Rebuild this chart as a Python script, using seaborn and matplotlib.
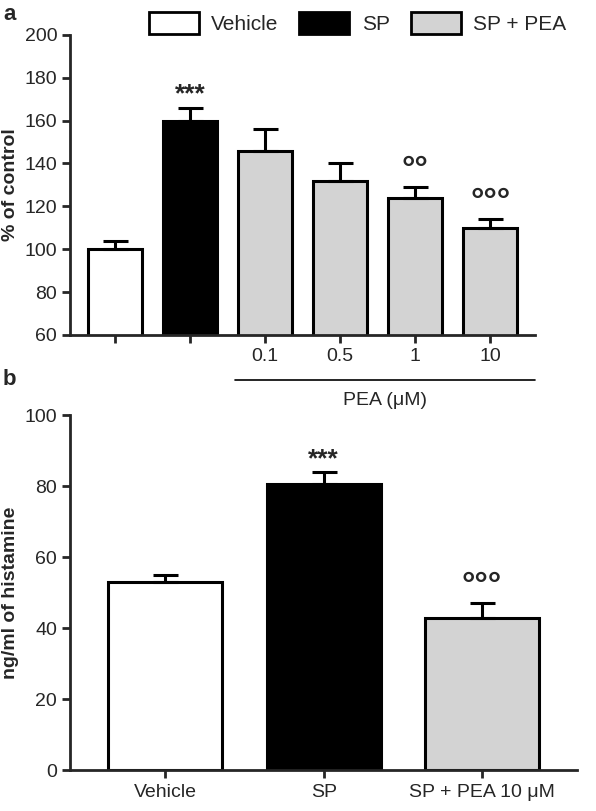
import matplotlib
matplotlib.use("Agg")
import matplotlib.pyplot as plt
import seaborn as sns
import pandas as pd
from matplotlib.patches import Patch

sns.set_style("ticks")
plt.rcParams["font.family"] = ["Liberation Sans", "DejaVu Sans"]

# panel a
a_groups = ["Vehicle", "SP", "0.1", "0.5", "1", "10"]
a_means = [100, 160, 146, 132, 124, 110]
a_sem = [4, 6, 10, 8, 5, 4]
a_marks = ["", "***", "", "", "°°", "°°°"]
# panel b
b_groups = ["Vehicle", "SP", "SP + PEA 10 μM"]
b_means = [53, 80.5, 43]
b_sem = [2, 3.5, 4]
b_marks = ["", "***", "°°°"]

a_colors = ["white", "black", "#d3d3d3", "#d3d3d3", "#d3d3d3", "#d3d3d3"]
b_colors = ["white", "black", "#d3d3d3"]

fig = plt.figure(figsize=(5.96, 8.11), dpi=100)
ax1 = fig.add_axes([0.118, 0.587, 0.78, 0.37])
ax2 = fig.add_axes([0.118, 0.05, 0.85, 0.438])

def draw(ax, groups, means, sem, colors, marks, base):
    df = pd.DataFrame({"g": groups, "v": means})
    sns.barplot(data=df, x="g", y="v", hue="g", palette=colors, legend=False,
                edgecolor="black", linewidth=2.2, width=0.72, ax=ax)
    for i, (m, s) in enumerate(zip(means, sem)):
        ax.errorbar(i, m, yerr=[[0], [s]], color="black", capsize=9,
                    capthick=2.2, elinewidth=2.2)
        if marks[i]:
            star = "*" in marks[i]
            ax.text(i, m + s + base, marks[i], ha="center", va="bottom",
                    fontsize=19 if star else 24, fontweight="bold",
                    linespacing=0.5 if star else 1)
    ax.set_xlabel("")
    sns.despine(ax=ax)
    for sp in ["left", "bottom"]:
        ax.spines[sp].set_linewidth(2)
    ax.tick_params(width=2, length=6, labelsize=14)

draw(ax1, a_groups, a_means, a_sem, a_colors, a_marks, 0.5)
ax1.set_ylim(60, 200)
ax1.set_yticks(range(60, 201, 20))
ax1.set_xticks(range(6))
ax1.set_xticklabels(["", ""] + a_groups[2:])
ax1.set_ylabel("% of control", fontsize=14, fontweight="bold")
ax1.set_xlim(-0.6, 5.6)
ax1.plot([1.6, 5.6], [-0.15, -0.15], transform=ax1.get_xaxis_transform(),
         color="black", lw=1.2, clip_on=False)
ax1.text(3.6, -0.19, "PEA (μM)", transform=ax1.get_xaxis_transform(),
         ha="center", va="top", fontsize=14)
handles = [Patch(facecolor=c, edgecolor="black", linewidth=2) for c in ["white", "black", "#d3d3d3"]]
fig.legend(handles, ["Vehicle", "SP", "SP + PEA"], loc="upper center", ncol=3,
           bbox_to_anchor=(0.6, 1.008), frameon=False, fontsize=15,
           handlelength=2.4, handleheight=1.2, columnspacing=1.0, handletextpad=0.6)
fig.text(0.005, 0.975, "a", fontsize=16, fontweight="bold")

draw(ax2, b_groups, b_means, b_sem, b_colors, b_marks, 0.3)
ax2.set_ylim(0, 100)
ax2.set_yticks(range(0, 101, 20))
ax2.set_ylabel("ng/ml of histamine", fontsize=14, fontweight="bold")
ax2.set_xlim(-0.6, 2.6)
fig.text(0.005, 0.525, "b", fontsize=16, fontweight="bold")

fig.savefig("out.png", dpi=100)
